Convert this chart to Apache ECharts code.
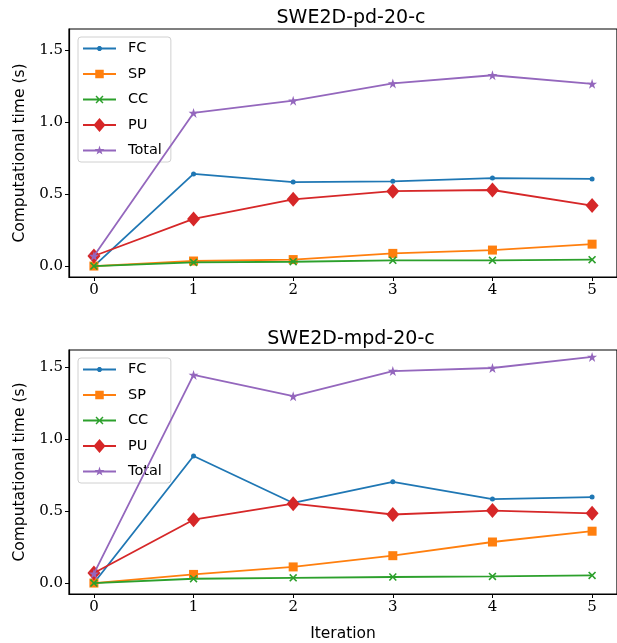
<!DOCTYPE html>
<html><head><meta charset="utf-8">
<script src="https://cdn.jsdelivr.net/npm/echarts@6/dist/echarts.min.js"></script>
<style>html,body{margin:0;padding:0;background:#fff}#c{width:617px;height:643px}</style>
</head><body><div id="c"></div>
<script>
const iterations = [0, 1, 2, 3, 4, 5];
const seriesNames = ['FC', 'SP', 'CC', 'PU', 'Total'];
const titles = ['SWE2D-pd-20-c', 'SWE2D-mpd-20-c'];
const yTicks = [0, 0.5, 1.0, 1.5];
// SWE2D-pd-20-c
const pdFC    = [0.0, 0.64, 0.583, 0.588, 0.611, 0.605];
const pdSP    = [0.0, 0.035, 0.045, 0.088, 0.111, 0.152];
const pdCC    = [0.0, 0.025, 0.03, 0.04, 0.04, 0.044];
const pdPU    = [0.07, 0.327, 0.463, 0.52, 0.528, 0.42];
const pdTotal = [0.07, 1.063, 1.148, 1.268, 1.325, 1.265];
// SWE2D-mpd-20-c
const mpdFC    = [0.0, 0.882, 0.556, 0.703, 0.583, 0.597];
const mpdSP    = [0.0, 0.06, 0.112, 0.19, 0.285, 0.36];
const mpdCC    = [0.0, 0.03, 0.036, 0.042, 0.046, 0.053];
const mpdPU    = [0.07, 0.44, 0.551, 0.476, 0.503, 0.484];
const mpdTotal = [0.065, 1.445, 1.297, 1.472, 1.493, 1.57];

const colors = ['#1f77b4', '#ff7f0e', '#2ca02c', '#d62728', '#9467bd'];
const STAR = 'path://M50,0 L61.23,34.55 L97.55,34.55 L68.16,55.9 L79.39,90.45 L50,69.1 L20.61,90.45 L31.84,55.9 L2.45,34.55 L38.77,34.55 Z';
const XMARK = 'path://M0,1.4 L1.4,0 L5,3.6 L8.6,0 L10,1.4 L6.4,5 L10,8.6 L8.6,10 L5,6.4 L1.4,10 L0,8.6 L3.6,5 Z';
const symbols = ['circle', 'rect', XMARK, 'diamond', STAR];
const symbolSizes = [5, 9, 8, [13, 15], 10];

// legend icons: line + marker, in a 33x14 box
const LINE = 'M0,0 M33,14 M0,6.1 L33,6.1 L33,7.9 L0,7.9 Z ';
const legendIcons = [
  'path://' + LINE + 'M15.5,4.5 L17.5,4.5 L19,6 L19,8 L17.5,9.5 L15.5,9.5 L14,8 L14,6 Z',
  'path://' + LINE + 'M12.25,2.75 L20.75,2.75 L20.75,11.25 L12.25,11.25 Z',
  'path://' + LINE + 'M12.5,4 L13.5,3 L16.5,6 L19.5,3 L20.5,4 L17.5,7 L20.5,10 L19.5,11 L16.5,8 L13.5,11 L12.5,10 L15.5,7 Z',
  'path://' + LINE + 'M16.5,0 L22.5,7 L16.5,14 L10.5,7 Z',
  'path://' + LINE + 'M16.5,2 L17.62,5.46 L21.26,5.46 L18.32,7.59 L19.44,11.05 L16.5,8.91 L13.56,11.05 L14.68,7.59 L11.74,5.46 L15.38,5.46 Z'
];

const panels = [
  {data: [pdFC, pdSP, pdCC, pdPU, pdTotal], top: 29, height: 248, ymax: 1.646},
  {data: [mpdFC, mpdSP, mpdCC, mpdPU, mpdTotal], top: 350, height: 244, ymax: 1.618}
];

const serif = 'DejaVu Serif';
const sans = 'DejaVu Sans';
const option = {
  animation: false,
  backgroundColor: '#fff',
  title: panels.map((p, i) => ({
    text: titles[i], left: 346, top: p.top - 25, textAlign: 'center',
    textStyle: {fontFamily: sans, fontSize: 19, fontWeight: 'normal', color: '#000'}
  })),
  grid: panels.map(p => ({left: 69, top: p.top, width: 554, height: p.height, show: true, borderColor: '#000', borderWidth: 1.2, backgroundColor: 'transparent'})),
  legend: panels.map(p => ({
    data: seriesNames.map((n, k) => ({name: n, icon: legendIcons[k]})),
    orient: 'vertical', left: 78, top: p.top + 8,
    itemWidth: 33, itemHeight: 14, itemGap: 10.5,
    padding: [4, 9, 4, 5],
    backgroundColor: 'rgba(255,255,255,0.85)', borderColor: '#d0d0d0', borderWidth: 1, borderRadius: 3,
    textStyle: {fontFamily: sans, fontSize: 14.5, lineHeight: 15, color: '#000', padding: [0, 0, 0, 7]}
  })),
  xAxis: panels.map((p, i) => ({
    type: 'value', gridIndex: i, min: -0.25, max: 5.25,
    name: i === 1 ? 'Iteration' : '', nameLocation: 'middle', nameGap: 32,
    nameTextStyle: {fontFamily: sans, fontSize: 15.5, color: '#000'},
    axisLine: {show: true, onZero: false, lineStyle: {color: '#000', width: 1.2}},
    axisTick: {show: true, inside: false, length: 4, lineStyle: {color: '#000'}, customValues: iterations},
    axisLabel: {fontFamily: serif, fontSize: 15, color: '#000', margin: 6, customValues: iterations, formatter: v => String(v)},
    splitLine: {show: false}
  })),
  yAxis: panels.map((p, i) => ({
    type: 'value', gridIndex: i, min: -0.076, max: p.ymax,
    name: 'Computational time (s)', nameLocation: 'middle', nameGap: 40,
    nameTextStyle: {fontFamily: sans, fontSize: 15.5, color: '#000'},
    axisLine: {show: true, onZero: false, lineStyle: {color: '#000', width: 1.2}},
    axisTick: {show: true, inside: false, length: 4, lineStyle: {color: '#000'}, customValues: yTicks},
    axisLabel: {fontFamily: serif, fontSize: 15, color: '#000', margin: 6, customValues: yTicks, formatter: v => v.toFixed(1)},
    splitLine: {show: false}
  })),
  series: []
};
panels.forEach((p, pi) => {
  seriesNames.forEach((n, si) => {
    option.series.push({
      type: 'line', name: n, xAxisIndex: pi, yAxisIndex: pi,
      data: iterations.map((x, k) => [x, p.data[si][k]]),
      symbol: symbols[si], symbolSize: symbolSizes[si], showAllSymbol: true,
      color: colors[si], lineStyle: {width: 1.8, color: colors[si]},
      itemStyle: {color: colors[si]}, z: 2 + si
    });
  });
});
echarts.init(document.getElementById('c')).setOption(option);
</script></body></html>
